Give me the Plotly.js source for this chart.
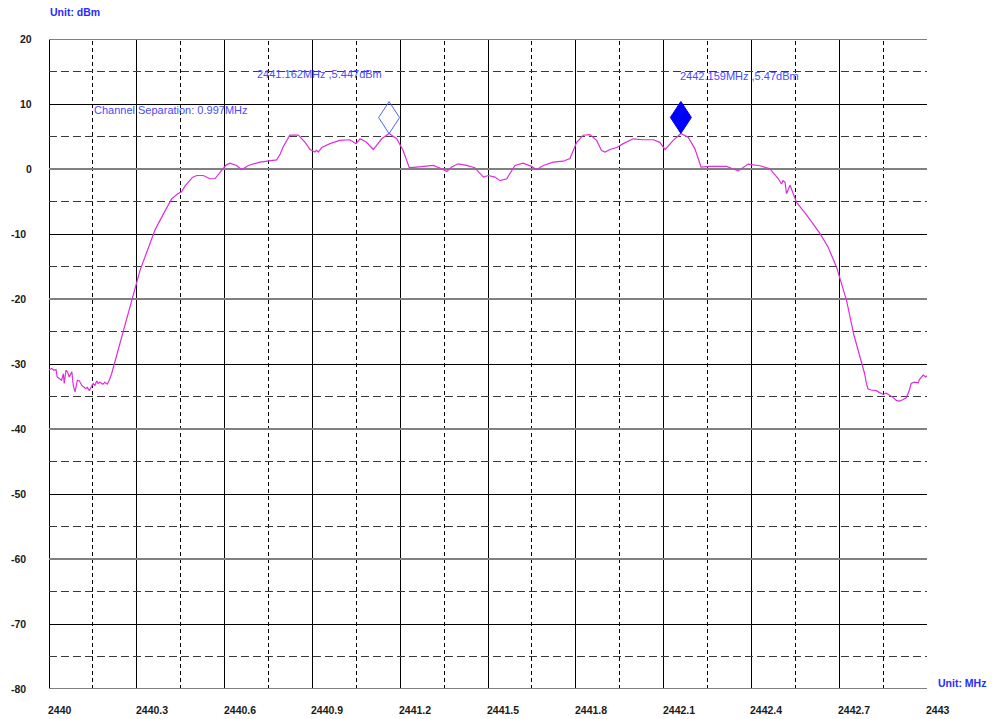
<!DOCTYPE html>
<html><head><meta charset="utf-8">
<script src="https://cdn.plot.ly/plotly-3.0.1.min.js"></script>
<style>
html,body{margin:0;padding:0;background:#fff;}
#chart{width:998px;height:719px;}
g.subplot .shapelayer path{shape-rendering:crispEdges;}
</style>
</head><body><div id="chart"></div>
<script>
// Spectrum trace (MHz, dBm)
const freqMHz = [
2440.000,2440.003,2440.009,2440.017,2440.024,2440.028,2440.035,2440.043,2440.049,2440.052,
2440.058,2440.063,2440.069,2440.078,2440.083,2440.089,2440.097,2440.104,2440.112,2440.117,
2440.126,2440.131,2440.138,2440.146,2440.151,2440.157,2440.163,2440.168,2440.174,2440.184,
2440.191,2440.199,2440.206,2440.214,2440.222,2440.231,2440.240,2440.252,2440.271,2440.288,
2440.311,2440.334,2440.362,2440.391,2440.419,2440.440,2440.453,2440.465,2440.476,2440.490,
2440.505,2440.527,2440.550,2440.567,2440.590,2440.605,2440.618,2440.641,2440.658,2440.681,
2440.721,2440.755,2440.778,2440.790,2440.800,2440.823,2440.852,2440.875,2440.892,2440.909,
2440.914,2440.920,2440.932,2440.960,2440.994,2441.028,2441.049,2441.063,2441.085,2441.108,
2441.137,2441.162,2441.188,2441.210,2441.231,2441.256,2441.313,2441.342,2441.359,2441.376,
2441.398,2441.427,2441.455,2441.484,2441.501,2441.524,2441.541,2441.564,2441.592,2441.620,
2441.649,2441.666,2441.689,2441.723,2441.757,2441.780,2441.803,2441.825,2441.848,2441.871,
2441.888,2441.900,2441.917,2441.940,2441.962,2441.996,2442.030,2442.065,2442.087,2442.105,
2442.133,2442.159,2442.184,2442.207,2442.228,2442.258,2442.315,2442.355,2442.389,2442.429,
2442.463,2442.492,2442.503,2442.508,2442.515,2442.520,2442.532,2442.554,2442.589,2442.634,
2442.662,2442.691,2442.725,2442.750,2442.764,2442.775,2442.787,2442.792,2442.798,2442.809,
2442.827,2442.838,2442.849,2442.861,2442.872,2442.883,2442.895,2442.906,2442.917,2442.929,
2442.940,2442.946,2442.957,2442.970,2442.974,2442.987,2442.996,2443.000
];
const levelDbm = [
-30.9,-30.85,-30.7,-30.96,-30.85,-32.0,-32.2,-32.5,-31.5,-33.0,
-30.96,-31.2,-32.0,-31.2,-33.3,-34.3,-32.5,-32.6,-33.3,-33.5,
-33.8,-33.6,-34.1,-33.4,-33.0,-33.3,-32.6,-33.0,-32.8,-33.1,
-32.8,-33.1,-32.5,-31.5,-30.2,-28.7,-27.4,-25.1,-22.2,-19.2,
-15.6,-12.8,-9.4,-6.9,-4.6,-3.8,-3.5,-2.6,-2.0,-1.3,
-1.0,-1.0,-1.5,-1.5,-0.2,0.6,0.9,0.55,-0.1,0.55,
1.06,1.3,1.4,2.3,3.4,5.2,5.2,4.1,3.0,2.6,
2.9,2.6,3.3,3.9,4.4,4.5,3.9,4.65,4.1,3.0,
4.65,5.447,4.65,2.85,0.2,0.3,0.55,0.05,-0.37,0.3,
0.8,0.55,0.2,-1.25,-1.0,-1.25,-1.8,-1.5,0.55,0.9,
0.4,-0.1,0.55,1.06,1.2,1.6,4.1,5.2,5.3,4.4,
2.85,2.6,3.0,3.3,3.9,4.65,4.5,4.5,4.1,3.0,
4.4,5.47,4.9,3.1,0.3,0.4,0.4,-0.3,0.75,0.5,
0.05,-1.5,-2.3,-1.8,-2.0,-3.8,-2.5,-5.1,-7.1,-9.9,
-12.0,-15.1,-20.2,-25.5,-27.9,-29.4,-31.5,-32.8,-33.8,-34.0,
-34.1,-34.4,-34.65,-34.5,-34.8,-35.1,-35.6,-35.7,-35.5,-35.2,
-34.0,-33.0,-32.8,-32.9,-32.4,-31.7,-32.0,-31.8
];
// Markers
const markerFreqs = [2441.162, 2442.159];
const markerLevels = [5.447, 5.47];
const markerLabels = ['2441.162MHz ,5.447dBm', '2442.159MHz ,5.47dBm'];
const channelSeparationText = 'Channel Separation: 0.997MHz';
// Axes
const xTickVals = [2440, 2440.3, 2440.6, 2440.9, 2441.2, 2441.5, 2441.8, 2442.1, 2442.4, 2442.7, 2443];
const xTickText = ['2440','2440.3','2440.6','2440.9','2441.2','2441.5','2441.8','2442.1','2442.4','2442.7','2443'];
const yTickVals = [20, 10, 0, -10, -20, -30, -40, -50, -60, -70, -80];
const yTickText = ['20','10','0','-10','-20','-30','-40','-50','-60','-70','-80'];
const xRange = [2440, 2443];
const yRange = [-80, 20];

const FONT = 'Liberation Sans, Arial, sans-serif';
const shapes = [];
// vertical grid lines every 0.15 MHz
for (let i = 0; i <= 20; i++) {
  const xv = xRange[0] + i * 0.15;
  const solid = i % 2 === 0;
  shapes.push({type:'line', layer:'below', xref:'x', yref:'y', x0:xv, x1:xv, y0:yRange[0], y1:yRange[1],
    line: solid ? {color:'#000', width:1} : {color:'#000', width:1, dash:'4px,3px'}});
}
// horizontal grid lines every 5 dB
for (let v = yRange[0]; v <= yRange[1]; v += 5) {
  let line;
  if (v % 20 === 0) line = {color:'#808080', width:2.4};
  else if (v % 10 === 0) line = {color:'#000', width:1};
  else line = {color:'#3a3a3a', width:1, dash:'8px,4px'};
  shapes.push({type:'line', layer:'below', xref:'x', yref:'y', x0:xRange[0], x1:xRange[1], y0:v, y1:v, line});
}
// marker diamonds (pixel-sized, anchored at marker point)
const diamond = 'M0,0 L10.5,16 L0,32 L-10.5,16 Z';
shapes.push({type:'path', layer:'above', xref:'x', yref:'y', xsizemode:'pixel', ysizemode:'pixel',
  xanchor:markerFreqs[0], yanchor:markerLevels[0], path:diamond,
  line:{color:'#4a64ff', width:1}, fillcolor:'rgba(0,0,0,0)'});
shapes.push({type:'path', layer:'above', xref:'x', yref:'y', xsizemode:'pixel', ysizemode:'pixel',
  xanchor:markerFreqs[1], yanchor:markerLevels[1], path:diamond,
  line:{color:'#0000ff', width:1}, fillcolor:'#0000ff'});

const annotations = [];
const tickFont = {family:FONT, size:10.5, color:'#1a1a1a', weight:'bold'};
xTickVals.forEach((v, i) => {
  annotations.push({xref:'x', yref:'paper', x:v, y:0, xanchor:'left', yanchor:'middle',
    xshift:-3, yshift:-20.5, text:xTickText[i], showarrow:false, font:tickFont});
});
yTickVals.forEach((v, i) => {
  annotations.push({xref:'paper', yref:'y', x:0, y:v, xanchor:'right', yanchor:'middle',
    xshift: v < 0 ? -20.7 : -14.7, text:yTickText[i], showarrow:false, font:tickFont});
});
const blueBold = {family:FONT, size:10.5, color:'#2a2aff', weight:'bold'};
annotations.push({xref:'paper', yref:'paper', x:0, y:1.0408, xanchor:'left', yanchor:'middle', xshift:-1,
  text:'Unit: dBm', showarrow:false, font:blueBold});
annotations.push({xref:'paper', yref:'paper', x:1.0103, y:0.0085, xanchor:'left', yanchor:'middle',
  text:'Unit: MHz', showarrow:false, font:blueBold});
const blueText = {family:FONT, size:11, color:'#4a4aff'};
annotations.push({xref:'paper', yref:'paper', x:0.3081, y:0.9454, xanchor:'center', yanchor:'middle',
  text:markerLabels[0], showarrow:false, font:blueText});
annotations.push({xref:'paper', yref:'paper', x:0.787, y:0.9438, xanchor:'center', yanchor:'middle',
  text:markerLabels[1], showarrow:false, font:blueText});
annotations.push({xref:'paper', yref:'paper', x:0.0501, y:0.8915, xanchor:'left', yanchor:'middle', xshift:-1,
  text:channelSeparationText, showarrow:false, font:blueText});

const trace = {x:freqMHz, y:levelDbm, type:'scatter', mode:'lines',
  line:{color:'#dd2edd', width:1.2}, hoverinfo:'x+y'};

const layout = {
  width:998, height:719,
  margin:{l:49, r:71, t:39, b:30, pad:0},
  paper_bgcolor:'#fff', plot_bgcolor:'#fff',
  showlegend:false,
  xaxis:{range:xRange, showgrid:false, zeroline:false, showline:false, showticklabels:false, ticks:'', fixedrange:true},
  yaxis:{range:yRange, showgrid:false, zeroline:false, showline:false, showticklabels:false, ticks:'', fixedrange:true},
  shapes, annotations
};
Plotly.newPlot('chart', [trace], layout, {displayModeBar:false, staticPlot:true});
</script>
</body></html>
